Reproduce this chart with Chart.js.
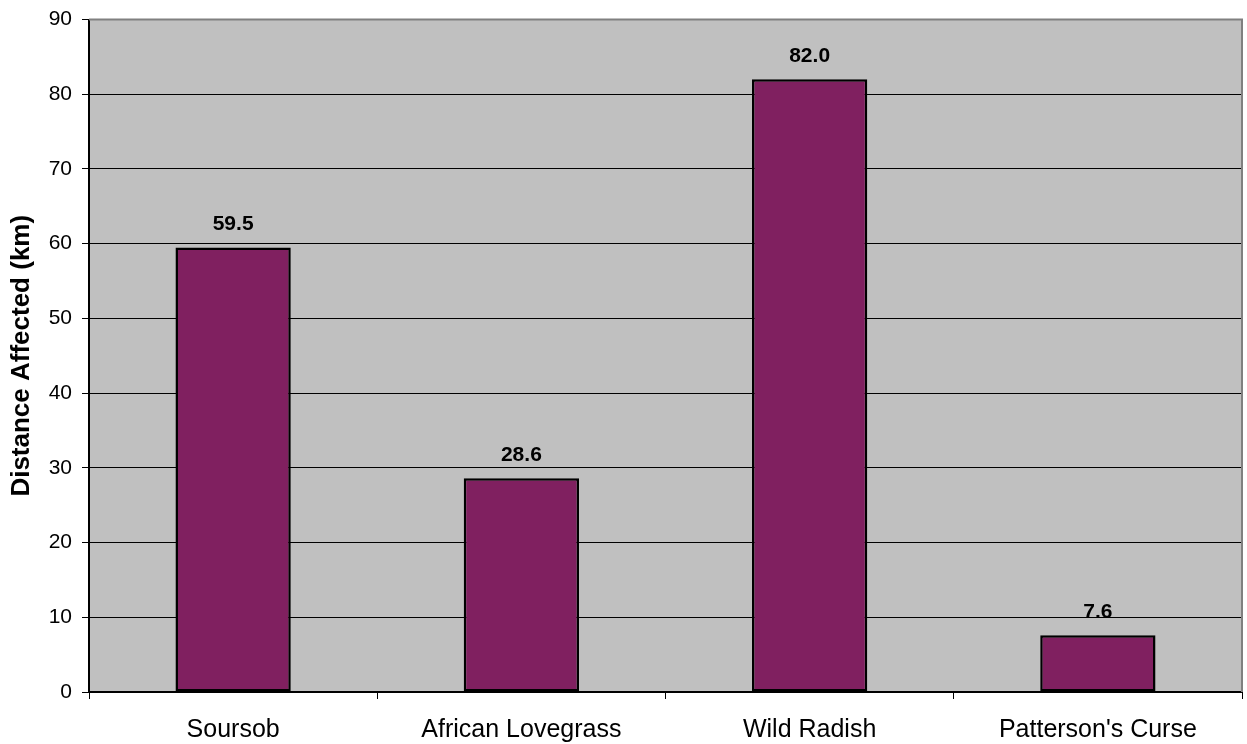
<!DOCTYPE html>
<html>
<head>
<meta charset="utf-8">
<script src="https://cdn.jsdelivr.net/npm/chart.js@4"></script>
<style>
html,body{margin:0;padding:0;background:#fff;}
#wrap{width:1247px;height:744px;}
</style>
</head>
<body>
<div id="wrap"><canvas id="c" width="1247" height="744"></canvas></div>
<script>
const categories = ["Soursob", "African Lovegrass", "Wild Radish", "Patterson's Curse"];
const distanceKm = [59.5, 28.6, 82.0, 7.6];
const yTicks = [0, 10, 20, 30, 40, 50, 60, 70, 80, 90];

const FONT = 'Arial, "Liberation Sans", sans-serif';

const plotBg = {
  id: 'plotBg',
  beforeDraw(chart) {
    const {ctx, chartArea: a} = chart;
    ctx.save();
    ctx.fillStyle = '#C0C0C0';
    ctx.fillRect(a.left, a.top, a.right - a.left, a.bottom - a.top);
    ctx.restore();
  },
  afterDatasetsDraw(chart) {
    const {ctx, chartArea: a} = chart;
    ctx.save();
    ctx.strokeStyle = '#808080';
    ctx.lineWidth = 2;
    ctx.beginPath();
    ctx.moveTo(a.left, a.top);
    ctx.lineTo(a.right, a.top);
    ctx.lineTo(a.right, a.bottom);
    ctx.stroke();
    // value labels
    const meta = chart.getDatasetMeta(0);
    ctx.fillStyle = '#000';
    ctx.font = 'bold 21px ' + FONT;
    ctx.textAlign = 'center';
    ctx.textBaseline = 'alphabetic';
    meta.data.forEach((bar, i) => {
      ctx.fillText(distanceKm[i].toFixed(1), bar.x, bar.y - 17);
    });
    ctx.restore();
  }
};

new Chart(document.getElementById('c'), {
  type: 'bar',
  data: {
    labels: categories,
    datasets: [{
      data: distanceKm,
      backgroundColor: '#802060',
      borderColor: '#000',
      borderWidth: 2.5,
      borderSkipped: false,
      categoryPercentage: 1.0,
      barPercentage: 0.4
    }]
  },
  options: {
    responsive: false,
    animation: false,
    devicePixelRatio: 1,
    layout: { padding: { top: 19.5, right: 5, left: 0, bottom: 0 } },
    plugins: { legend: { display: false }, tooltip: { enabled: false } },
    scales: {
      x: {
        offset: true,
        afterFit(s) { s.height = 52; s.paddingLeft = 0; s.paddingRight = 0; },
        grid: { offset: true, drawOnChartArea: false, drawTicks: true, tickLength: 7, color: '#000', lineWidth: 1 },
        border: { color: '#000', width: 2 },
        ticks: { color: '#000', font: { family: FONT, size: 25 }, padding: 16, maxRotation: 0, autoSkip: false }
      },
      y: {
        min: 0, max: 90,
        afterFit(s) { s.width = 89; s.paddingTop = 0; s.paddingBottom = 0; },
        afterBuildTicks(s) { s.ticks = yTicks.map(v => ({ value: v })); },
        grid: {
          color: ctx => (ctx.tick && ctx.tick.value === 90 ? 'rgba(0,0,0,0)' : '#000'),
          tickColor: '#000',
          lineWidth: 1,
          tickLength: 7,
          drawTicks: true
        },
        border: { color: '#000', width: 2 },
        ticks: { color: '#000', font: { family: FONT, size: 21 }, padding: 10, stepSize: 10 },
        title: { display: true, text: 'Distance Affected (km)', color: '#000', font: { family: FONT, size: 26, weight: 'bold' }, padding: { top: 6, bottom: 0 } }
      }
    }
  },
  plugins: [plotBg]
});
</script>
</body>
</html>
